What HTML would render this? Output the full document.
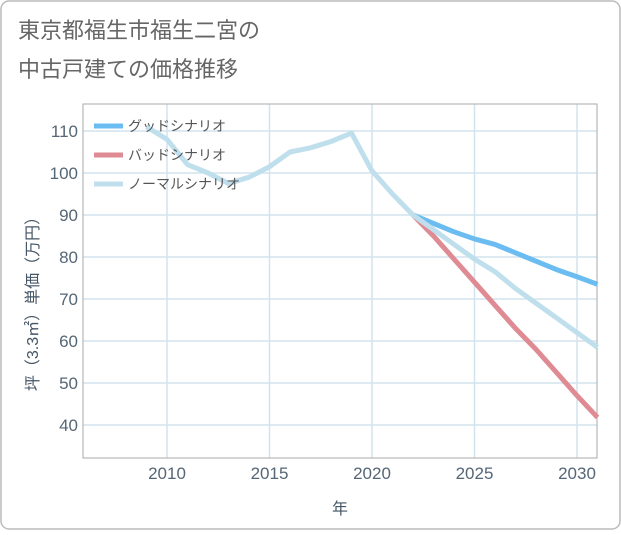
<!DOCTYPE html>
<html><head><meta charset="utf-8"><style>
body{margin:0;background:#fff;}
svg text{font-family:"Liberation Sans","Noto Sans CJK JP",sans-serif;}
</style></head><body>
<svg width="621" height="530" xmlns="http://www.w3.org/2000/svg">
<rect x="1" y="1" width="619" height="528" rx="8" fill="#fff" stroke="#bbb" stroke-width="1.5"/>
<text x="18" y="38" font-size="22" fill="#666">東京都福生市福生二宮の</text>
<text x="18" y="77" font-size="22" fill="#666">中古戸建ての価格推移</text>
<g id="grid"></g>
<rect x="83" y="104" width="514" height="354" fill="none" stroke="#aaa" stroke-width="1"/>
<g id="ticks"></g>
<g id="series"></g>
<text transform="translate(38,300) rotate(-90)" text-anchor="middle" font-size="16" fill="#456">坪（3.3㎡）単価（万円）</text>
<text x="340" y="514" text-anchor="middle" font-size="16" fill="#456">年</text>
<g id="legend"></g>
</svg>
<script>
const years=[2009,2010,2011,2012,2013,2014,2015,2016,2017,2018,2019,2020,2021,2022,2023,2024,2025,2026,2027,2028,2029,2030,2031];
const normalValues=[111,108,102,100,97.5,99,101.5,105,106,107.5,109.5,100.5,95,90,86.5,83,79.5,76.5,72.5,69,65.5,62,58.5];
const forecastYears=[2022,2023,2024,2025,2026,2027,2028,2029,2030,2031];
const goodValues=[90,88,86,84.3,83,81,79,77,75.3,73.5];
const badValues=[90,85,79.5,74,68.5,63,58,52.5,47,41.8];
const xTicks=[2010,2015,2020,2025,2030];
const yTicks=[40,50,60,70,80,90,100,110];
const NS="http://www.w3.org/2000/svg";
const X=y=>167+(y-2010)*20.5;
const Y=v=>131+(110-v)*4.2;
function mk(t,a,p){const e=document.createElementNS(NS,t);for(const k in a)e.setAttribute(k,a[k]);p.appendChild(e);return e;}
const grid=document.getElementById('grid'),ticks=document.getElementById('ticks');
xTicks.forEach(t=>{
 const l=mk('line',{x1:X(t),x2:X(t),y1:104,y2:458,stroke:'#d3e3ee','stroke-width':1.5},grid);
 
 
 const tx=mk('text',{x:X(t),y:479,'text-anchor':'middle','font-size':17,fill:'#567'},ticks);
 tx.textContent=t;
 
 
});
yTicks.forEach(t=>{
 const l=mk('line',{x1:83,x2:597,y1:Y(t),y2:Y(t),stroke:'#d3e3ee','stroke-width':1.5},grid);
 
 
 const tx=mk('text',{x:78,y:Y(t)+6,'text-anchor':'end','font-size':17,fill:'#567'},ticks);
 tx.textContent=t;
 
 
});
const ser=document.getElementById('series');
function line(xs,vs,color,name){
 const p=mk('polyline',{points:xs.map((x,i)=>X(x)+','+Y(vs[i])).join(' '),fill:'none',stroke:color,'stroke-width':5,'stroke-linejoin':'round'},ser);
 
 
}
line(forecastYears,goodValues,'#6bbcf0','good-scenario-line');
line(forecastYears,badValues,'#df8b93','bad-scenario-line');
line(years,normalValues,'#bfdfec','normal-scenario-line');
const lg=document.getElementById('legend');
[['グッドシナリオ','#6bbcf0','legend-good'],['バッドシナリオ','#df8b93','legend-bad'],['ノーマルシナリオ','#bfdfec','legend-normal']].forEach((d,i)=>{
 const y=126+i*29;
 const g=mk('g',{},lg);
 
 
 mk('line',{x1:94,x2:123,y1:y,y2:y,stroke:d[1],'stroke-width':5},g);
 const t=mk('text',{x:128,y:y+5,'font-size':14,fill:'#555'},g);
 t.textContent=d[0];
});
</script>
</body></html>
